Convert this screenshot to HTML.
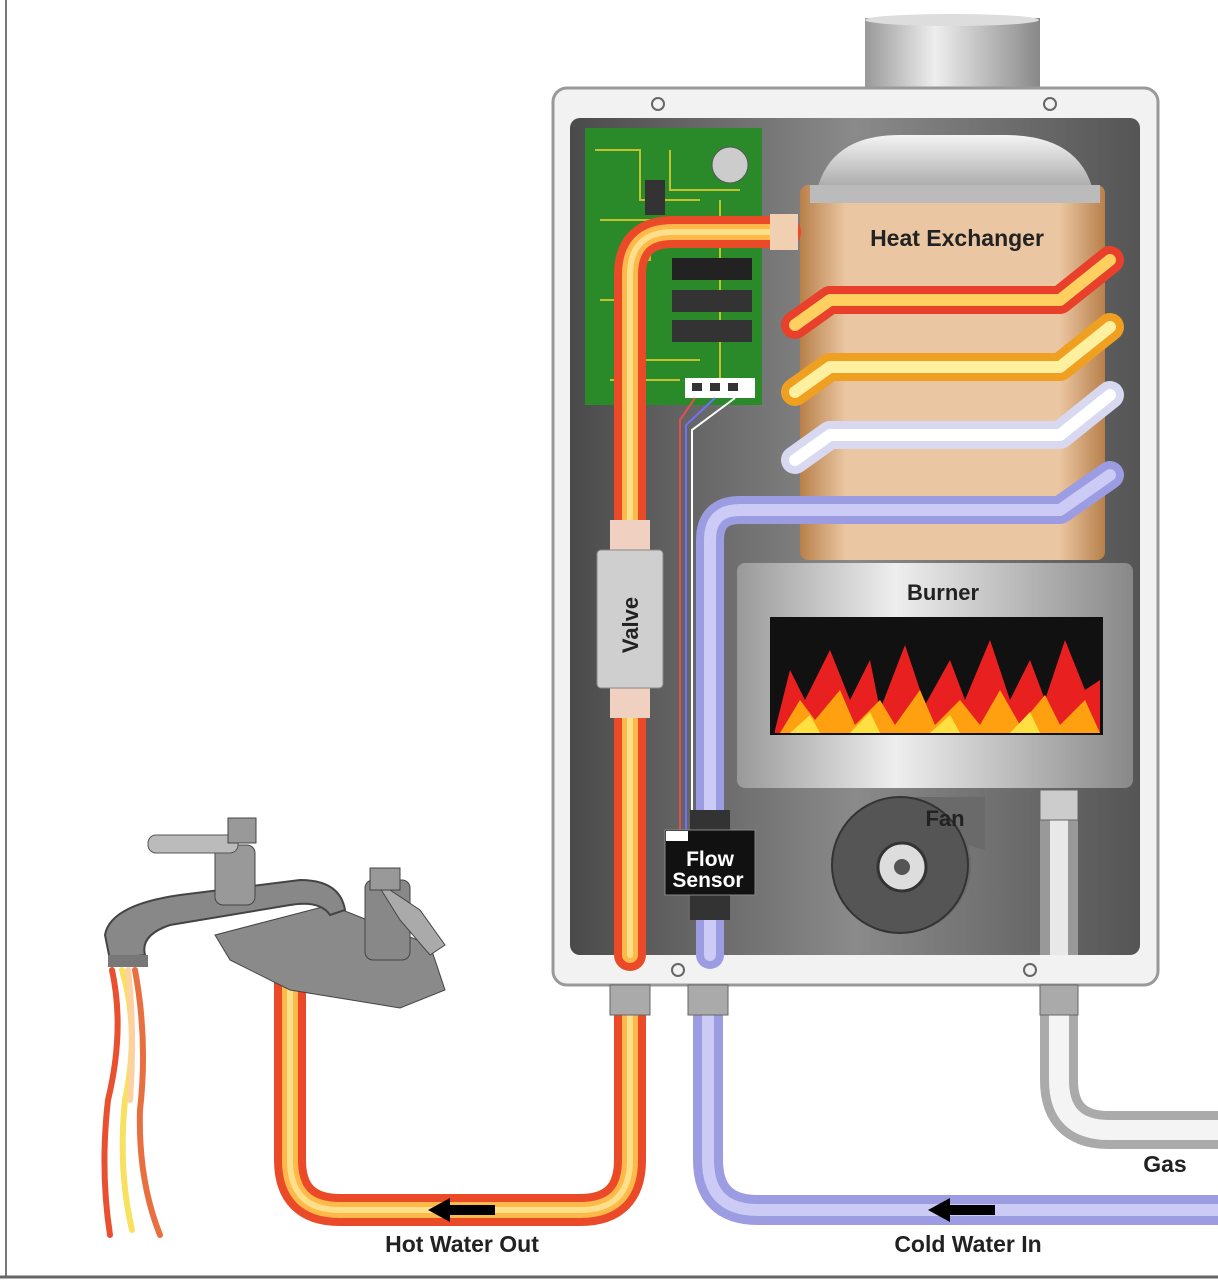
<!DOCTYPE html>
<html><head><meta charset="utf-8"><style>
html,body{margin:0;padding:0;background:#fff;}
svg{display:block;}
text{font-family:"Liberation Sans",sans-serif;font-weight:bold;}
</style></head><body>
<svg width="1218" height="1280" viewBox="0 0 1218 1280" xmlns="http://www.w3.org/2000/svg">
<defs>
<linearGradient id="panel" x1="0" x2="1" y1="0" y2="0">
<stop offset="0" stop-color="#4a4a4a"/><stop offset="0.5" stop-color="#8a8a8a"/><stop offset="1" stop-color="#555"/></linearGradient>
<linearGradient id="silver" x1="0" x2="1"><stop offset="0" stop-color="#999"/><stop offset="0.4" stop-color="#eee"/><stop offset="1" stop-color="#888"/></linearGradient>
<linearGradient id="silverv" x1="0" x2="0" y1="0" y2="1"><stop offset="0" stop-color="#f4f4f4"/><stop offset="1" stop-color="#999"/></linearGradient>
<linearGradient id="hx" x1="0" x2="1"><stop offset="0" stop-color="#b8804a"/><stop offset="0.15" stop-color="#ebc6a2"/><stop offset="0.85" stop-color="#ebc6a2"/><stop offset="1" stop-color="#b8804a"/></linearGradient>
</defs>
<line x1="6" y1="0" x2="6" y2="1276" stroke="#777" stroke-width="2"/>
<line x1="0" y1="1277" x2="1218" y2="1277" stroke="#666" stroke-width="3"/>

<rect x="865" y="18" width="175" height="80" fill="url(#silver)"/>
<ellipse cx="952" cy="20" rx="87" ry="6" fill="#ddd"/>
<rect x="553" y="88" width="605" height="897" rx="14" fill="#f2f2f2" stroke="#999" stroke-width="3"/>
<circle cx="658" cy="104" r="6" fill="none" stroke="#666" stroke-width="2"/>
<circle cx="1050" cy="104" r="6" fill="none" stroke="#666" stroke-width="2"/>
<circle cx="678" cy="970" r="6" fill="none" stroke="#666" stroke-width="2"/>
<circle cx="1030" cy="970" r="6" fill="none" stroke="#666" stroke-width="2"/>
<rect x="570" y="118" width="570" height="837" rx="10" fill="url(#panel)"/>

<rect x="800" y="185" width="305" height="375" rx="8" fill="url(#hx)"/>
<path d="M815 200 Q825 135 900 135 L1005 135 Q1085 135 1095 200 Z" fill="url(#silverv)"/>
<rect x="810" y="185" width="290" height="18" fill="#bbb"/>
<text x="957" y="246" font-size="23" text-anchor="middle" fill="#222">Heat Exchanger</text>

<rect x="585" y="128" width="177" height="277" fill="#2a8a2a"/>
<g stroke="#e8d030" stroke-width="2" fill="none" opacity="0.8">
<path d="M595 150 H640 V200 H700 M600 220 H650 V260 H620 M670 150 V190 H740 M600 300 H640 V360 H700 M720 200 V380 M610 380 H680"/>
</g>
<circle cx="730" cy="165" r="18" fill="#ccc" stroke="#555"/>
<rect x="645" y="180" width="20" height="35" fill="#333"/>
<rect x="672" y="258" width="80" height="22" fill="#222"/>
<rect x="672" y="290" width="80" height="22" fill="#333"/>
<rect x="672" y="320" width="80" height="22" fill="#333"/>
<rect x="685" y="378" width="70" height="20" fill="#fff"/>
<rect x="692" y="383" width="10" height="8" fill="#333"/><rect x="710" y="383" width="10" height="8" fill="#333"/><rect x="728" y="383" width="10" height="8" fill="#333"/>
<path d="M695 398 L680 420 V830" stroke="#e05050" stroke-width="2" fill="none"/>
<path d="M715 398 L686 425 V830" stroke="#7070ff" stroke-width="2" fill="none"/>
<path d="M735 398 L692 430 V830" stroke="#fff" stroke-width="2" fill="none"/>

<g fill="none" stroke-linecap="round" stroke-linejoin="round">
<path d="M795 325 L830 300 H1060 L1110 260" stroke="#e8402a" stroke-width="28"/>
<path d="M795 325 L830 300 H1060 L1110 260" stroke="#ffd060" stroke-width="12"/>
<path d="M795 392 L830 367 H1060 L1110 327" stroke="#f0a020" stroke-width="28"/>
<path d="M795 392 L830 367 H1060 L1110 327" stroke="#fff0a0" stroke-width="12"/>
<path d="M795 460 L830 435 H1060 L1110 395" stroke="#d8d8f0" stroke-width="28"/>
<path d="M795 460 L830 435 H1060 L1110 395" stroke="#fff" stroke-width="12"/>
<path d="M710 955 V540 Q710 510 740 510 H1060 L1110 475" stroke="#9c9ce2" stroke-width="28"/>
<path d="M710 955 V540 Q710 510 740 510 H1060 L1110 475" stroke="#cbcbf5" stroke-width="12"/>
<path d="M630 955 V275 Q630 232 673 232 H785" stroke="#ea4a28" stroke-width="32"/>
<path d="M630 955 V275 Q630 232 673 232 H785" stroke="#ffb84a" stroke-width="16"/>
<path d="M630 955 V275 Q630 232 673 232 H785" stroke="#ffe08a" stroke-width="6"/>
</g>
<rect x="770" y="214" width="28" height="36" fill="#f0d0b0"/>

<rect x="610" y="520" width="40" height="30" fill="#f0d0c0"/>
<rect x="610" y="688" width="40" height="30" fill="#f0d0c0"/>
<rect x="597" y="550" width="66" height="138" rx="4" fill="#cfcfcf" stroke="#888"/>
<text x="630" y="625" font-size="22" text-anchor="middle" fill="#222" transform="rotate(-90 630 625)" dy="8">Valve</text>

<rect x="690" y="810" width="40" height="110" fill="#333"/>
<rect x="665" y="830" width="90" height="65" fill="#111" stroke="#888"/>
<rect x="666" y="831" width="22" height="10" fill="#fff"/>
<text x="710" y="866" font-size="21" text-anchor="middle" fill="#fff" font-weight="normal">Flow</text>
<text x="708" y="887" font-size="21" text-anchor="middle" fill="#fff" font-weight="normal">Sensor</text>

<rect x="737" y="563" width="396" height="225" rx="8" fill="url(#silver)"/>
<text x="943" y="600" font-size="22" text-anchor="middle" fill="#222">Burner</text>
<rect x="770" y="617" width="333" height="118" fill="#111"/>
<path d="M775 730 L790 670 L805 700 L830 650 L850 700 L870 660 L880 710 L905 645 L925 705 L950 660 L965 700 L990 640 L1010 700 L1030 660 L1045 700 L1065 640 L1085 690 L1100 680 V733 H775 Z" fill="#e82020"/>
<path d="M780 733 L800 700 L815 720 L840 690 L855 725 L880 700 L895 725 L920 690 L935 725 L960 700 L980 725 L1000 690 L1020 725 L1045 695 L1060 725 L1085 700 L1100 733 Z" fill="#ffa010"/>
<path d="M790 733 L810 715 L820 733 M850 733 L870 712 L880 733 M930 733 L950 715 L960 733 M1010 733 L1030 712 L1040 733" fill="#ffe040"/>

<path d="M900 797 H985 V850 L968 845 A68 68 0 1 1 900 797 Z" fill="#6a6a6a"/>
<circle cx="900" cy="865" r="68" fill="#555" stroke="#333" stroke-width="2"/>
<circle cx="902" cy="867" r="24" fill="#ddd" stroke="#333" stroke-width="3"/>
<circle cx="902" cy="867" r="8" fill="#555"/>
<text x="945" y="826" font-size="22" text-anchor="middle" fill="#222">Fan</text>

<g fill="none" stroke-linecap="butt">
<path d="M1059 790 V955" stroke="#999" stroke-width="38"/>
<path d="M1059 790 V955" stroke="#e8e8e8" stroke-width="18"/>
<path d="M1059 990 V1080 Q1059 1130 1109 1130 H1218" stroke="#aaa" stroke-width="38"/>
<path d="M1059 990 V1080 Q1059 1130 1109 1130 H1218" stroke="#f4f4f4" stroke-width="20"/>
<path d="M708 990 V1160 Q708 1210 758 1210 H1218" stroke="#9c9ce2" stroke-width="30"/>
<path d="M708 990 V1160 Q708 1210 758 1210 H1218" stroke="#cbcbf5" stroke-width="12"/>
<path d="M630 990 V1160 Q630 1210 580 1210 H340 Q290 1210 290 1160 V975" stroke="#ea4a28" stroke-width="32"/>
<path d="M630 990 V1160 Q630 1210 580 1210 H340 Q290 1210 290 1160 V975" stroke="#ffb84a" stroke-width="16"/>
<path d="M630 990 V1160 Q630 1210 580 1210 H340 Q290 1210 290 1160 V975" stroke="#ffe08a" stroke-width="6"/>
</g>
<rect x="610" y="985" width="40" height="30" fill="#aaa" stroke="#666"/>
<rect x="688" y="985" width="40" height="30" fill="#aaa" stroke="#666"/>
<rect x="1040" y="985" width="38" height="30" fill="#aaa" stroke="#666"/>
<rect x="1040" y="790" width="38" height="30" fill="#ccc" stroke="#666"/>

<path d="M428 1210 L450 1198 V1205 H495 V1215 H450 V1222 Z" fill="#000"/>
<path d="M928 1210 L950 1198 V1205 H995 V1215 H950 V1222 Z" fill="#000"/>

<text x="462" y="1252" font-size="23" text-anchor="middle" fill="#222">Hot Water Out</text>
<text x="968" y="1252" font-size="23" text-anchor="middle" fill="#222">Cold Water In</text>
<text x="1165" y="1172" font-size="23" text-anchor="middle" fill="#222">Gas</text>

<g>
<path d="M215 935 L330 905 L430 945 L445 990 L400 1008 L290 990 L230 960 Z" fill="#8a8a8a" stroke="#444"/>
<path d="M105 935 Q110 905 180 895 L300 880 Q340 880 345 910 L330 915 Q320 900 290 905 L170 925 Q140 935 145 955 L110 960 Z" fill="#888" stroke="#444" stroke-width="2"/>
<rect x="215" y="845" width="40" height="60" rx="8" fill="#999" stroke="#444"/>
<rect x="148" y="835" width="90" height="18" rx="8" fill="#bbb" stroke="#555"/>
<rect x="228" y="818" width="28" height="25" fill="#999" stroke="#444"/>
<rect x="365" y="880" width="45" height="80" rx="8" fill="#888" stroke="#444"/>
<path d="M375 880 L420 910 L445 945 L430 955 L400 920 Z" fill="#aaa" stroke="#444"/>
<rect x="370" y="868" width="30" height="22" fill="#999" stroke="#444"/>
<rect x="108" y="955" width="40" height="12" fill="#777"/>
</g>
<g fill="none" stroke-width="6" stroke-linecap="round">
<path d="M112 970 Q125 1030 108 1100 Q100 1170 110 1235" stroke="#e85030"/>
<path d="M122 970 Q140 1030 125 1100 Q118 1170 132 1230" stroke="#f8e060"/>
<path d="M135 970 Q148 1040 140 1110 Q138 1180 160 1235" stroke="#e87040"/>
<path d="M128 970 Q135 1030 130 1100" stroke="#ffd0a0"/>
</g>
</svg>
</body></html>
